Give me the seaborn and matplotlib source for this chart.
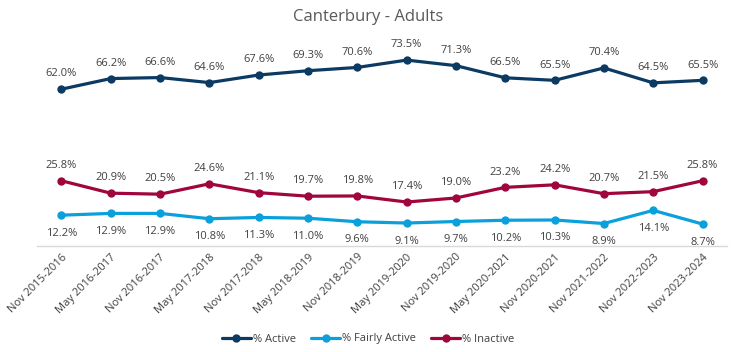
import matplotlib
matplotlib.use("Agg")
import matplotlib.pyplot as plt
import seaborn as sns
import pandas as pd

periods = ["Nov 2015-2016", "May 2016-2017", "Nov 2016-2017", "May 2017-2018",
           "Nov 2017-2018", "May 2018-2019", "Nov 2018-2019", "May 2019-2020",
           "Nov 2019-2020", "May 2020-2021", "Nov 2020-2021", "Nov 2021-2022",
           "Nov 2022-2023", "Nov 2023-2024"]
active = [62.0, 66.2, 66.6, 64.6, 67.6, 69.3, 70.6, 73.5, 71.3, 66.5, 65.5, 70.4, 64.5, 65.5]
fairly_active = [12.2, 12.9, 12.9, 10.8, 11.3, 11.0, 9.6, 9.1, 9.7, 10.2, 10.3, 8.9, 14.1, 8.7]
inactive = [25.8, 20.9, 20.5, 24.6, 21.1, 19.7, 19.8, 17.4, 19.0, 23.2, 24.2, 20.7, 21.5, 25.8]

series_names = ["% Active", "% Fairly Active", "% Inactive"]
colors = ["#0B3A63", "#0AA0DC", "#A0063D"]

rows = []
for name, vals in zip(series_names, [active, fairly_active, inactive]):
    for i, v in enumerate(vals):
        rows.append({"pos": i, "period": periods[i], "value": v, "series": name})
df = pd.DataFrame(rows)

sns.set_theme(style="white")
plt.rcParams['font.family'] = ['Open Sans', 'DejaVu Sans']

fig = plt.figure(figsize=(7.36, 3.52), dpi=100)
ax = fig.add_axes([0.050, 0.301, 0.938, 0.575])

sns.lineplot(data=df, x="pos", y="value", hue="series", hue_order=series_names,
             palette=colors, marker="o", markersize=6, markeredgewidth=0,
             linewidth=2.3, ax=ax, legend=True, sort=False)

text_color = "#404040"
for name, vals in zip(series_names, [active, fairly_active, inactive]):
    for i, v in enumerate(vals):
        if name == "% Fairly Active":
            ax.annotate(f"{v:.1f}%", (i, v), xytext=(0, -9), textcoords="offset points",
                        ha="center", va="top", fontsize=8, color=text_color)
        else:
            ax.annotate(f"{v:.1f}%", (i, v), xytext=(0, 7), textcoords="offset points",
                        ha="center", va="bottom", fontsize=8, color=text_color)

ax.set_xlim(-0.5, len(periods) - 0.5)
ax.set_ylim(0, 80)
ax.set_xticks(range(len(periods)))
ax.set_xticklabels(periods, rotation=45, ha="right", rotation_mode="anchor",
                   fontsize=8, color=text_color)
ax.tick_params(axis="x", length=0, pad=4)
ax.set_yticks([])
ax.set_xlabel("")
ax.set_ylabel("")
for s in ["top", "right", "left"]:
    ax.spines[s].set_visible(False)
ax.spines["bottom"].set_color("#D9D9D9")
ax.spines["bottom"].set_linewidth(1)

fig.text(0.5, 0.952, "Canterbury - Adults", ha="center", va="center",
         fontsize=12, color="#595959")

handles, labels = ax.get_legend_handles_labels()
ax.get_legend().remove()
leg = fig.legend(handles, labels, loc="center", bbox_to_anchor=(0.5, 1 - 339 / 352),
                 ncol=3, frameon=False, fontsize=8, handlelength=2.6,
                 columnspacing=1.4, handletextpad=0.15)
for t in leg.get_texts():
    t.set_color(text_color)

fig.savefig("out.png", dpi=100)
